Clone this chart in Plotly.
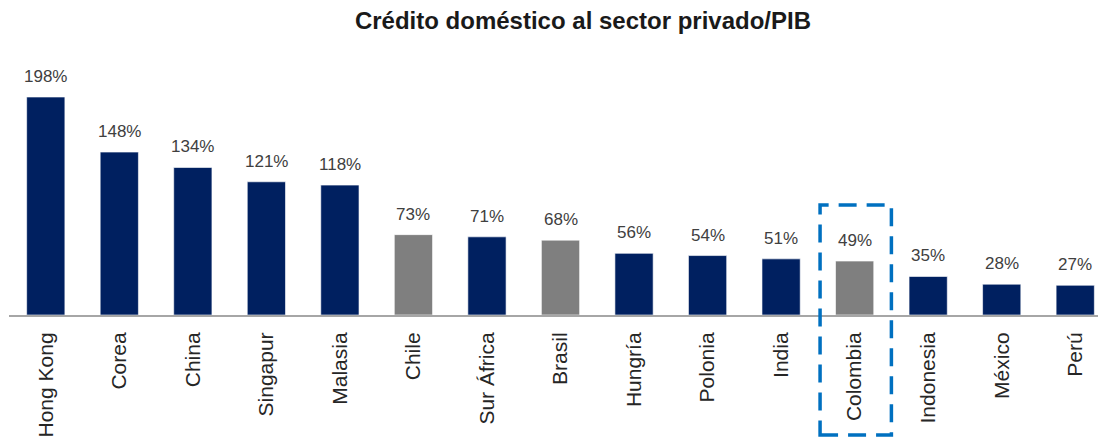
import plotly.graph_objects as go

countries = ["Hong Kong", "Corea", "China", "Singapur", "Malasia", "Chile", "Sur África",
             "Brasil", "Hungría", "Polonia", "India", "Colombia", "Indonesia", "México", "Perú"]
values = [198, 148, 134, 121, 118, 73, 71, 68, 56, 54, 51, 49, 35, 28, 27]
highlight = ["Chile", "Brasil", "Colombia"]
boxed = "Colombia"
title_text = "Crédito doméstico al sector privado/PIB"

NAVY = "#002060"
GREY = "#7f7f7f"
colors = [GREY if c in highlight else NAVY for c in countries]

# page body has an 8px default margin; offsets below compensate for it
fig = go.Figure()
fig.add_trace(go.Bar(
    x=countries, y=values,
    marker=dict(color=colors, line=dict(color="rgba(255,255,255,0.6)", width=1)),
    width=0.52,
    hoverinfo="skip",
))

for c, v in zip(countries, values):
    fig.add_annotation(x=c, y=v, text=f"{v}%", showarrow=False,
                       yanchor="bottom", yshift=9,
                       font=dict(family="Liberation Sans, Arial", size=17, color="#404040"))

bi = countries.index(boxed)
fig.add_shape(type="rect", xref="x", yref="paper",
              x0=bi - 0.47, x1=bi + 0.5, y0=-0.436, y1=0.4,
              line=dict(color="#0070C0", width=3.5, dash="18px,10px"),
              fillcolor="rgba(0,0,0,0)", layer="above")

fig.update_layout(
    width=1106, height=441,
    margin=dict(l=1, r=2, t=32, b=134, autoexpand=False),
    paper_bgcolor="white", plot_bgcolor="white",
    showlegend=False,
    title=dict(text=title_text, x=575 / 1106, xanchor="center", y=1 - 13 / 441, yanchor="middle",
               font=dict(family="Liberation Sans, Arial", size=24, color="#1a1a1a", weight="bold")),
    xaxis=dict(
        range=[-0.5, 14.5],
        automargin=False,
        showline=True, linecolor="#a6a6a6", linewidth=2,
        showgrid=False, zeroline=False,
        tickangle=-90, ticks="", ticklabelstandoff=7,
        tickfont=dict(family="Liberation Sans, Arial", size=21, color="#262626"),
        fixedrange=True,
    ),
    yaxis=dict(range=[0, 249.8], visible=False, fixedrange=True, automargin=False),
)

fig.write_html("out.html")
